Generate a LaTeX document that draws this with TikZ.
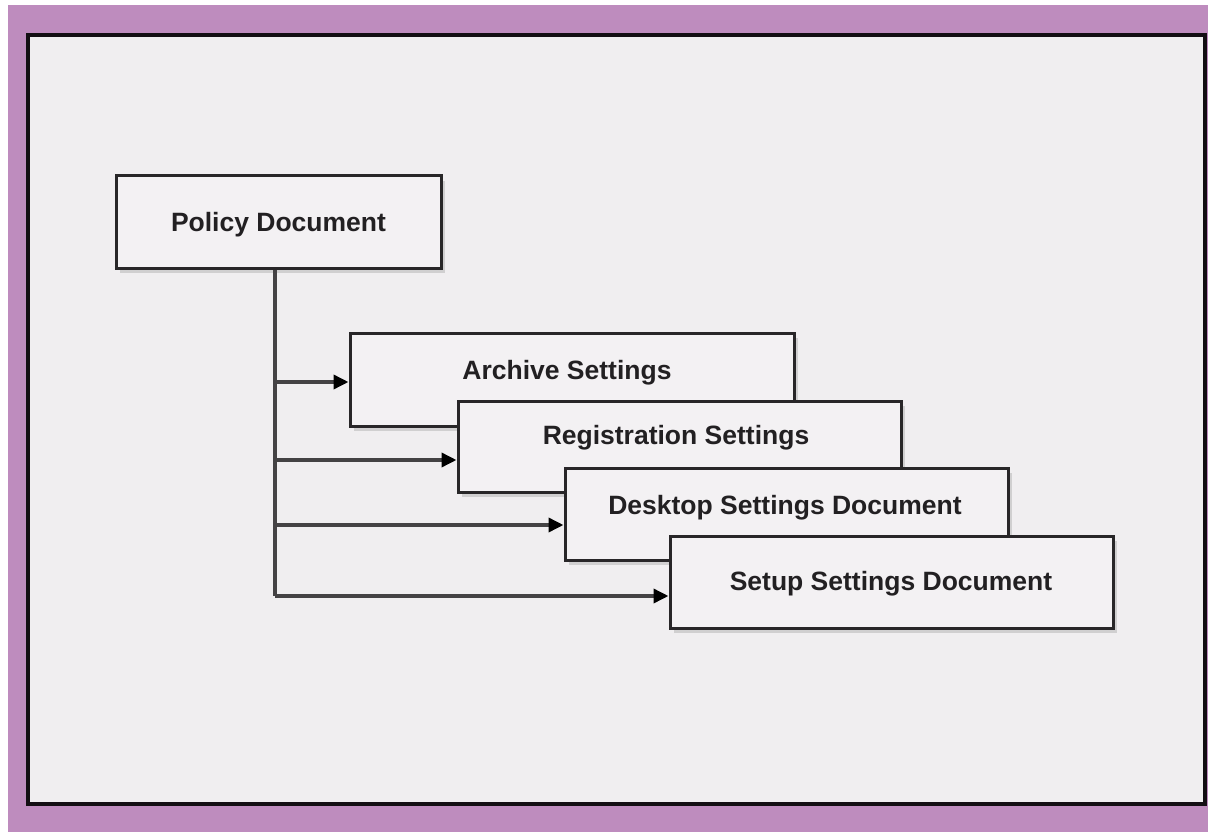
\documentclass[tikz,border=0pt]{standalone}
\usepackage{fontspec}
\setmainfont{Liberation Sans}
\usetikzlibrary{arrows.meta,shadows}

\definecolor{frame}{RGB}{190,140,190}
\definecolor{panel}{RGB}{240,238,240}
\definecolor{boxfill}{RGB}{243,241,243}
\definecolor{boxline}{RGB}{40,38,40}
\definecolor{wire}{RGB}{68,66,68}
\definecolor{ink}{RGB}{34,32,34}

\tikzset{
  docbox/.style={draw=boxline, line width=3pt, fill=boxfill, rectangle,
    inner sep=0pt, minimum height=#1,
    drop shadow={shadow xshift=4pt, shadow yshift=-5pt, fill=black, opacity=0.13}},
  docbox/.default=92pt,
  caption/.style={font=\bfseries\fontsize{26.5}{30}\selectfont, text=ink,
    inner sep=0pt, text height=19pt, text depth=0pt},
  wireline/.style={draw=wire, line width=3.5pt},
  feed/.style={wireline, -{Triangle[length=15pt,width=14pt,fill=black,color=black]}}
}

\begin{document}
\begin{tikzpicture}[x=1pt,y=-1pt]
  % page: white margin, purple frame, bordered panel
  \fill[white] (0,0) rectangle (1208,832);
  \fill[frame] (8,5) rectangle (1208,832);
  \draw[fill=panel, draw=black!90!frame, line width=4pt] (28,35) rectangle (1205,804);
  \useasboundingbox (0,0) rectangle (1208,832);

  % root document
  \node[docbox, minimum width=325pt] (policy) at (278.5,222) {};
  \node[caption] (policyt) at (278.5,222) {Policy Document};

  % trunk coordinates
  \coordinate (ta) at (275,382);
  \coordinate (tb) at (275,460);
  \coordinate (tc) at (275,525);
  \coordinate (td) at (275,596);

  \draw[wireline] (policy.south -| td) -- (td);

  % stacked settings documents with their feeds
  \node[docbox=93pt, minimum width=444pt] (archive) at (572,379.5) {};
  \node[caption] (archivet) at (567,370) {Archive Settings};
  \draw[feed] (ta) -- (archive.west |- ta);

  \node[docbox=91pt, minimum width=443pt] (registration) at (679.5,446.5) {};
  \node[caption] (registrationt) at (676,435) {Registration Settings};
  \draw[feed] (tb) -- (registration.west |- tb);

  \node[docbox, minimum width=443pt] (desktop) at (786.5,514) {};
  \node[caption] (desktopt) at (785,505) {Desktop Settings Document};
  \draw[feed] (tc) -- (desktop.west |- tc);

  \node[docbox, minimum width=443pt] (setup) at (891.5,582) {};
  \node[caption] (setupt) at (891,581) {Setup Settings Document};
  \draw[feed] (td) -- (setup.west |- td);
\end{tikzpicture}
\end{document}
